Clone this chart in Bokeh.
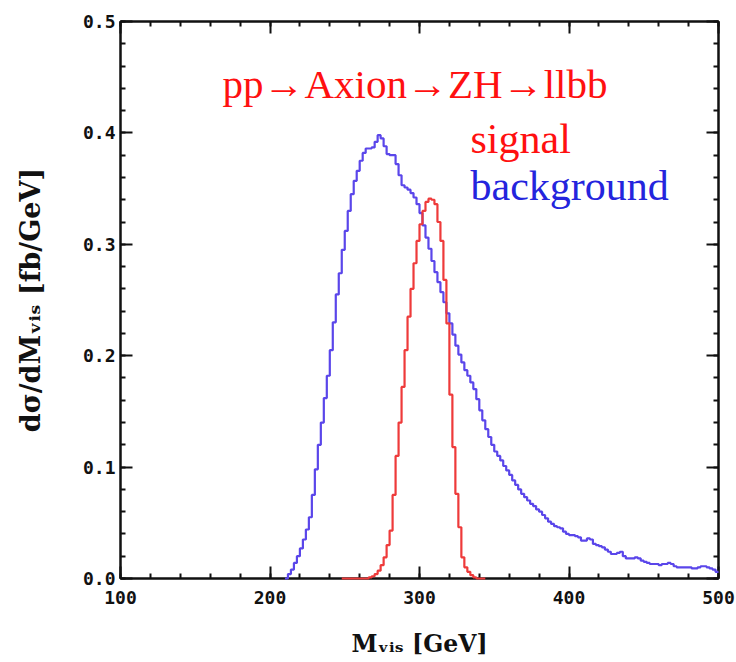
import numpy as np
from bokeh.plotting import figure
from bokeh.models import (LinearAxis, SingleIntervalTicker, PrintfTickFormatter, Label, Range1d,
                          CustomJSTickFormatter)
from bokeh.embed import file_html
from bokeh.resources import INLINE

# ---------------- data ----------------
bin_width = 2.0  # GeV

# background: bins start at 210 GeV
bkg_start = 210.0
background = [
    0.000, 0.004, 0.008, 0.014, 0.020, 0.027, 0.035, 0.044, 0.055, 0.075,   # 210-228
    0.098, 0.120, 0.140, 0.162, 0.182, 0.205, 0.230, 0.255, 0.274, 0.295,   # 230-248
    0.312, 0.330, 0.345, 0.357, 0.366, 0.375, 0.382, 0.386, 0.386, 0.387,   # 250-268
    0.392, 0.398, 0.395, 0.388, 0.381, 0.380, 0.380, 0.372, 0.362, 0.353,   # 270-288
    0.351, 0.349, 0.346, 0.342, 0.336, 0.328, 0.317, 0.306, 0.296, 0.285,   # 290-308
    0.275, 0.266, 0.257, 0.248, 0.238, 0.229, 0.219, 0.209, 0.201, 0.194,   # 310-328
    0.187, 0.182, 0.176, 0.170, 0.161, 0.151, 0.142, 0.134, 0.127, 0.120,   # 330-348
    0.114, 0.110, 0.106, 0.101, 0.097, 0.093, 0.088, 0.084, 0.080, 0.076,   # 350-368
    0.073, 0.070, 0.067, 0.065, 0.062, 0.060, 0.057, 0.054, 0.051, 0.049,   # 370-388
    0.047, 0.046, 0.045, 0.042, 0.040, 0.039, 0.039, 0.038, 0.037, 0.034,   # 390-408
    0.034, 0.036, 0.035, 0.031, 0.030, 0.029, 0.028, 0.026, 0.024, 0.022,   # 410-428
    0.022, 0.023, 0.024, 0.020, 0.018, 0.018, 0.018, 0.019, 0.018, 0.016,   # 430-448
    0.015, 0.014, 0.013, 0.013, 0.013, 0.012, 0.013, 0.013, 0.014, 0.013,   # 450-468
    0.011, 0.010, 0.010, 0.010, 0.010, 0.010, 0.009, 0.009, 0.010, 0.011,   # 470-488
    0.011, 0.010, 0.009, 0.008, 0.006,                                      # 490-498
]

# signal: bins start at 248 GeV
sig_start = 248.0
signal = [
    0.000, 0.000, 0.000, 0.000, 0.000, 0.000, 0.000, 0.000, 0.000, 0.001,   # 248-266
    0.002, 0.004, 0.007, 0.012, 0.019, 0.030, 0.043, 0.075, 0.110, 0.140,   # 268-286
    0.172, 0.205, 0.235, 0.260, 0.283, 0.303, 0.318, 0.330, 0.338, 0.341,   # 288-306
    0.340, 0.336, 0.320, 0.303, 0.268, 0.229, 0.165, 0.118, 0.076, 0.046,   # 308-326
    0.019, 0.010, 0.006, 0.003, 0.001, 0.000, 0.000, 0.000,                 # 328-342
]

x_range = (100, 500)
y_range = (0.0, 0.5)

title_text = "pp\u2192Axion\u2192ZH\u2192llbb"
signal_label = "signal"
background_label = "background"
x_label = "M\u1d65\u1d62\u209b [GeV]"
y_label = "d\u03c3/dM\u1d65\u1d62\u209b [fb/GeV]"

# ---------------- layout ----------------
W, H = 736, 662
FL, FR, FT, FB = 120, 718, 21, 578   # frame edges in pixels

p = figure(width=W, height=H, output_backend="svg", toolbar_location=None,
           x_range=Range1d(*x_range), y_range=Range1d(*y_range),
           x_axis_type=None, y_axis_type=None,
           min_border_left=FL, min_border_right=W - FR,
           min_border_top=FT, min_border_bottom=H - FB)
p.xgrid.visible = False
p.ygrid.visible = False
p.outline_line_color = "#111111"
p.outline_line_width = 2
p.background_fill_color = "white"
p.border_fill_color = "white"

mono = "'DejaVu Sans Mono', monospace"
serif_b = "'DejaVu Serif', serif"

def style_axis(ax, label_size="24px"):
    ax.axis_line_color = "#111111"
    ax.axis_line_width = 2
    ax.major_tick_in = 12
    ax.major_tick_out = 0
    ax.minor_tick_in = 5
    ax.minor_tick_out = 0
    ax.major_tick_line_width = 2
    ax.minor_tick_line_width = 2
    ax.major_tick_line_color = "#111111"
    ax.minor_tick_line_color = "#111111"
    ax.major_label_text_font = mono
    ax.major_label_text_font_style = "bold"
    ax.major_label_text_color = "#111111"
    ax.major_label_text_font_size = "18px"
    ax.axis_label_text_font = serif_b
    ax.axis_label_text_font_style = "bold"
    ax.axis_label_text_font_size = label_size
    ax.axis_label_text_color = "#111111"

blank = CustomJSTickFormatter(code="return ''")

xb = LinearAxis(ticker=SingleIntervalTicker(interval=100, num_minor_ticks=5),
                axis_label=x_label)
style_axis(xb, "23.5px")
xb.major_label_standoff = 12
xb.axis_label_standoff = 23
p.add_layout(xb, "below")

xt = LinearAxis(ticker=SingleIntervalTicker(interval=100, num_minor_ticks=5), formatter=blank)
style_axis(xt)
xt.major_label_standoff = 0
p.add_layout(xt, "above")

yl = LinearAxis(ticker=SingleIntervalTicker(interval=0.1, num_minor_ticks=5),
                formatter=PrintfTickFormatter(format="%.1f"), axis_label=y_label)
style_axis(yl, "27px")
yl.major_label_standoff = 5
yl.axis_label_standoff = 34
p.add_layout(yl, "left")

yr = LinearAxis(ticker=SingleIntervalTicker(interval=0.1, num_minor_ticks=5), formatter=blank)
style_axis(yr)
yr.major_label_standoff = 0
p.add_layout(yr, "right")

# ---------------- histograms ----------------
bkg_edges = bkg_start + bin_width * np.arange(len(background) + 1)
bkg_y = list(background) + [background[-1]]
rb = p.step(bkg_edges, bkg_y, mode="after", line_color="#5a46ea", line_width=2.2)
rb.level = "overlay"

sig_edges = sig_start + bin_width * np.arange(len(signal) + 1)
sig_y = list(signal) + [signal[-1]]
rs = p.step(sig_edges, sig_y, mode="after", line_color="#ee3a3a", line_width=2.2)
rs.level = "overlay"

# ---------------- texts ----------------
def dx(px):
    return x_range[0] + (px - FL) * (x_range[1] - x_range[0]) / (FR - FL)

def dy(py):
    return y_range[0] + (FB - py) * (y_range[1] - y_range[0]) / (FB - FT)

p.add_layout(Label(x=dx(222), y=dy(83), text=title_text, text_color="#ff1010",
                   text_font="'Liberation Serif'", text_font_size="41px",
                   text_baseline="alphabetic", text_align="left"))
p.add_layout(Label(x=dx(470), y=dy(138), text=signal_label, text_color="#ff1010",
                   text_font="'Liberation Serif'", text_font_size="42px",
                   text_baseline="alphabetic", text_align="left"))
p.add_layout(Label(x=dx(470), y=dy(185), text=background_label, text_color="#2424dd",
                   text_font="'Liberation Serif'", text_font_size="42px",
                   text_baseline="alphabetic", text_align="left"))

open("out.html", "w").write(file_html(p, INLINE))
